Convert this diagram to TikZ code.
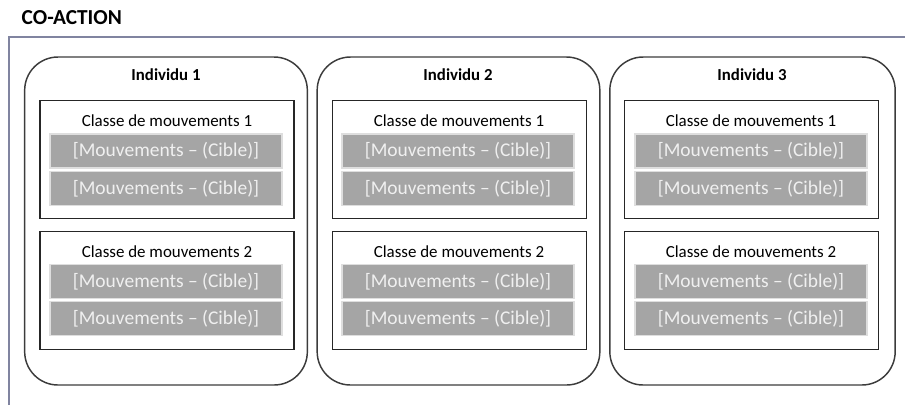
\documentclass[tikz,border=0pt]{standalone}
\usepackage{fontspec}
\setmainfont{Carlito}
\usetikzlibrary{positioning}

\definecolor{cadre}{RGB}{128,132,160}
\definecolor{traitgris}{RGB}{60,60,60}
\definecolor{barre}{RGB}{165,165,165}
\definecolor{barrebord}{RGB}{222,222,222}
\definecolor{barretexte}{RGB}{240,240,240}

\begin{document}
\begin{tikzpicture}[x=0.75pt, y=-0.75pt,
	indiv/.style={draw=traitgris, line width=1.1pt, rounded corners=25pt, minimum width=212pt, minimum height=246pt, inner sep=0pt},
	classe/.style={draw=black!85, line width=1.1pt, minimum width=190.5pt, minimum height=88.5pt, inner sep=0pt},
	mouv/.style={fill=barre, draw=barrebord, line width=0.8pt, minimum width=174pt, minimum height=25.5pt, inner sep=0pt, text=barretexte, font=\fontsize{14.6}{16}\selectfont},
	titreindiv/.style={font=\bfseries\fontsize{12.6}{14}\selectfont},
	titreclasse/.style={font=\fontsize{12.7}{14}\selectfont}]
				\useasboundingbox (0,0) rectangle (905,405);

				\node[anchor=west, font=\bfseries\fontsize{16}{18}\selectfont] (titre) at (17,18) {CO-ACTION};
				\draw[cadre, line width=0.8pt] (9,405) -- (9,37) -- (905,37);

				% Individu 1
				\node[indiv] (i1) at (166,221) {};
				\node[titreindiv] (t1) at (166,75) {Individu 1};
				\node[classe] (c11) at (167,159.5) {};
				\node[titreclasse] (l11) at (167,121) {Classe de mouvements 1};
				\node[mouv] (m11a) at (166,151) {[Mouvements -- (Cible)]};
				\node[mouv] (m11b) at (166,188.5) {[Mouvements -- (Cible)]};
				\node[classe] (c12) at (167,290.5) {};
				\node[titreclasse] (l12) at (167,252) {Classe de mouvements 2};
				\node[mouv] (m12a) at (166,281.5) {[Mouvements -- (Cible)]};
				\node[mouv] (m12b) at (166,318.5) {[Mouvements -- (Cible)]};

				% Individu 2
				\node[indiv] (i2) at (166+292.5,221) {};
				\node[titreindiv] (t2) at (166+292,75) {Individu 2};
				\node[classe] (c21) at (167+292.5,159.5) {};
				\node[titreclasse] (l21) at (167+292,121) {Classe de mouvements 1};
				\node[mouv] (m21a) at (166+292,151) {[Mouvements -- (Cible)]};
				\node[mouv] (m21b) at (166+292,188.5) {[Mouvements -- (Cible)]};
				\node[classe] (c22) at (167+292.5,290.5) {};
				\node[titreclasse] (l22) at (167+292,252) {Classe de mouvements 2};
				\node[mouv] (m22a) at (166+292,281.5) {[Mouvements -- (Cible)]};
				\node[mouv] (m22b) at (166+292,318.5) {[Mouvements -- (Cible)]};

				% Individu 3
				\node[indiv, minimum width=214pt] (i3) at (166+586.5,221) {};
				\node[titreindiv] (t3) at (166+586,75) {Individu 3};
				\node[classe] (c31) at (167+584.5,159.5) {};
				\node[titreclasse] (l31) at (167+584,121) {Classe de mouvements 1};
				\node[mouv] (m31a) at (166+585,151) {[Mouvements -- (Cible)]};
				\node[mouv] (m31b) at (166+585,188.5) {[Mouvements -- (Cible)]};
				\node[classe] (c32) at (167+584.5,290.5) {};
				\node[titreclasse] (l32) at (167+584,252) {Classe de mouvements 2};
				\node[mouv] (m32a) at (166+585,281.5) {[Mouvements -- (Cible)]};
				\node[mouv] (m32b) at (166+585,318.5) {[Mouvements -- (Cible)]};

			\end{tikzpicture}
\end{document}
